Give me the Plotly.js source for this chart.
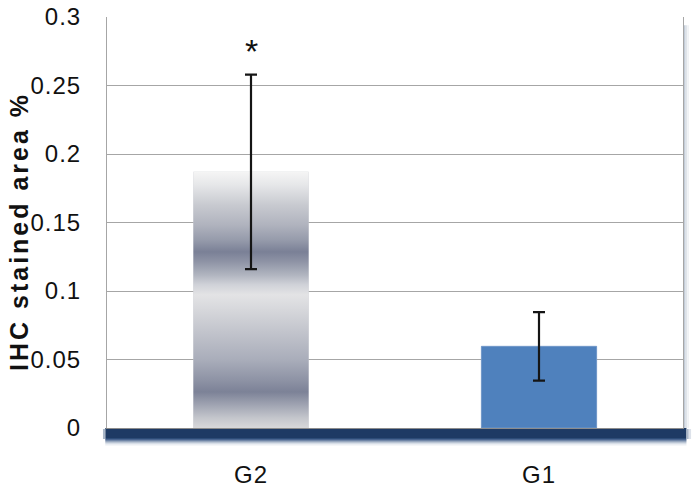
<!DOCTYPE html>
<html>
<head>
<meta charset="utf-8">
<script src="https://cdn.plot.ly/plotly-3.0.1.min.js"></script>
<style>
  html, body { margin: 0; padding: 0; background: #ffffff; }
  #chart { width: 700px; height: 489px; }
  .ytick text { letter-spacing: 1px; }
  .xtick text { letter-spacing: 1px; }
  .annotation[data-index="0"] text { letter-spacing: 3px; }
</style>
</head>
<body>
<div id="chart"></div>
<script>
// ---- data ----
const categories = ['G2', 'G1'];
const values = [0.187, 0.0596];
const errors = [0.071, 0.025];
const markText = ['*', ''];
const yTitle = 'IHC stained area %';

// ---- styles ----
const FONT = 'Liberation Sans, Arial, sans-serif';
const BAR_W = 0.4;
const positions = categories.map((c, i) => i);
const barColors = ['#c8cad0', '#4f81bd'];

// gradient (fraction of bar height from its base -> colour)
const g2Gradient = [
  [0.0, '#d8d8da'], [0.039, '#c4c6cc'], [0.09, '#a0a4b2'], [0.141, '#7c8297'],
  [0.1875, '#8e93a5'], [0.266, '#a9adba'], [0.375, '#c2c4cc'], [0.461, '#d6d7db'],
  [0.52, '#e3e3e5'], [0.559, '#d0d2d8'], [0.598, '#b0b4bf'], [0.648, '#8f94a6'],
  [0.6875, '#7a8096'], [0.734, '#969bab'], [0.793, '#b0b3be'], [0.871, '#c8cad0'],
  [0.949, '#e6e7e9'], [1.0, '#f5f5f5']
];

const barTrace = {
  type: 'bar',
  x: positions,
  y: values,
  width: BAR_W,
  marker: { color: barColors, line: { color: ['rgba(0,0,0,0)', '#6f96c8'], width: 1 } },
  hoverinfo: 'skip',
  showlegend: false
};

// gradient overlay for the first (G2) bar, built from its value
const gx = positions[0];
const gv = values[0];
const gradTrace = {
  type: 'scatter',
  mode: 'none',
  x: [gx - BAR_W / 2, gx + BAR_W / 2, gx + BAR_W / 2, gx - BAR_W / 2, gx - BAR_W / 2],
  y: [0, 0, gv, gv, 0],
  fill: 'toself',
  fillgradient: { type: 'vertical', colorscale: g2Gradient, start: 0, stop: gv },
  hoverinfo: 'skip',
  showlegend: false
};

const errTrace = {
  type: 'scatter',
  mode: 'markers',
  x: positions,
  y: values,
  marker: { size: 1, color: 'rgba(0,0,0,0)' },
  error_y: { type: 'data', array: errors, visible: true, color: '#151515', thickness: 2.2, width: 6 },
  hoverinfo: 'skip',
  showlegend: false
};

// floor (3D base) and side shadow decorations
const shapes = [];
const floorStrips = [
  ['#1e3a64', 0, 10], ['#2d4c78', 10, 11], ['#4a6590', 11, 12], ['#6f85a6', 12, 13],
  ['#97a7be', 13, 14], ['#bac5d4', 14, 15], ['#d7dee7', 15, 16], ['#ebeef3', 16, 17], ['#f5f7f9', 17, 18]
];
floorStrips.forEach(([c, a, b]) => {
  shapes.push({ type: 'rect', xref: 'paper', yref: 'paper', ysizemode: 'pixel', yanchor: 0,
    x0: -0.003, x1: 1.006, y0: -a, y1: -b, fillcolor: c, line: { width: 0 }, layer: 'below' });
});
// soft ends of the floor
[['#a9b6c8', -0.007, -0.003], ['#a9b6c8', 1.006, 1.010], ['#dde2ea', 1.010, 1.014]].forEach(([c, a, b]) => {
  shapes.push({ type: 'rect', xref: 'paper', yref: 'paper', ysizemode: 'pixel', yanchor: 0,
    x0: a, x1: b, y0: -1, y1: -11, fillcolor: c, line: { width: 0 }, layer: 'below' });
});
// right wall shadow
[['#c3ccd8', 1.0015, 1.0045], ['#dfe4ea', 1.0045, 1.0075], ['#f0f2f5', 1.0075, 1.0105]].forEach(([c, a, b]) => {
  shapes.push({ type: 'rect', xref: 'paper', yref: 'paper', x0: a, x1: b, y0: 0, y1: 0.98,
    fillcolor: c, line: { width: 0 }, layer: 'below' });
});

// y-axis title as rotated text (index 0), then significance marks
const annotations = [{
  xref: 'paper', yref: 'paper', x: -0.153, y: 0.479, xanchor: 'center', yanchor: 'middle',
  text: yTitle, textangle: -90, showarrow: false,
  font: { family: FONT, size: 25, color: '#111111', weight: 'bold' }
}].concat(positions.map((p, i) => ({
  x: p, y: values[i] + errors[i], xref: 'x', yref: 'y', text: markText[i],
  showarrow: false, yanchor: 'bottom', yshift: 3,
  font: { family: FONT, size: 34, color: '#111111' }
})).filter(a => a.text));

const layout = {
  width: 700, height: 489,
  margin: { l: 107, r: 17, t: 17, b: 61 },
  paper_bgcolor: '#ffffff',
  plot_bgcolor: '#ffffff',
  font: { family: FONT, color: '#111111' },
  bargap: 0,
  xaxis: {
    range: [-0.5, 1.5],
    tickmode: 'array', tickvals: positions, ticktext: categories,
    showgrid: false, zeroline: false,
    showline: true, linecolor: '#8c8c8c', linewidth: 1,
    ticks: '', ticklabelstandoff: 25,
    tickfont: { family: FONT, size: 24, color: '#111111' },
    fixedrange: true
  },
  yaxis: {
    range: [0, 0.3], tick0: 0, dtick: 0.05,
    showgrid: true, gridcolor: '#a6a6a6', gridwidth: 1,
    zeroline: false,
    showline: true, mirror: true, linecolor: '#a6a6a6', linewidth: 1,
    ticks: '', ticklabelstandoff: 20,
    tickfont: { family: FONT, size: 24, color: '#111111' },
    fixedrange: true
  },
  shapes: shapes,
  annotations: annotations
};

Plotly.newPlot('chart', [barTrace, gradTrace, errTrace], layout, { staticPlot: true, displayModeBar: false });
</script>
</body>
</html>
